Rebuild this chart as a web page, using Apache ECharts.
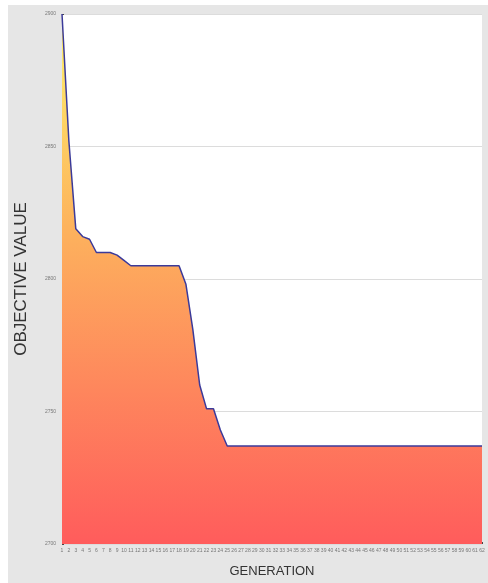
<!DOCTYPE html>
<html>
<head>
<meta charset="utf-8">
<script src="https://cdn.jsdelivr.net/npm/echarts@6/dist/echarts.min.js"></script>
<style>
  html, body { margin: 0; padding: 0; background: #fff; }
  #panel { position: absolute; left: 8px; top: 5px; width: 480px; height: 578px; background: #e6e6e6; }
  #chart { position: absolute; left: 0; top: 0; width: 488px; height: 583px; }
</style>
</head>
<body>
<div id="panel"></div>
<div id="chart"></div>
<script>
// Generations 1..62
var generations = [];
for (var g = 1; g <= 62; g++) generations.push(String(g));

// Best objective value per generation
var objectiveValues = [
  2900, 2852, 2819, 2816, 2815, 2810, 2810, 2810, 2809, 2807,
  2805, 2805, 2805, 2805, 2805, 2805, 2805, 2805, 2798, 2781,
  2760, 2751, 2751, 2743, 2737, 2737, 2737, 2737, 2737, 2737,
  2737, 2737, 2737, 2737, 2737, 2737, 2737, 2737, 2737, 2737,
  2737, 2737, 2737, 2737, 2737, 2737, 2737, 2737, 2737, 2737,
  2737, 2737, 2737, 2737, 2737, 2737, 2737, 2737, 2737, 2737,
  2737, 2737
];

var yMin = 2700;
var yMax = 2900;
var yStep = 50;

var chart = echarts.init(document.getElementById('chart'));

chart.setOption({
  animation: false,
  backgroundColor: 'transparent',
  grid: {
    left: 62,
    right: 6,
    top: 14,
    bottom: 34,
    show: true,
    backgroundColor: '#ffffff',
    borderWidth: 0
  },
  xAxis: {
    type: 'category',
    data: generations,
    boundaryGap: false,
    name: 'GENERATION',
    nameLocation: 'middle',
    nameGap: 21,
    nameTextStyle: { color: '#333', fontSize: 13, fontFamily: 'Liberation Sans' },
    axisLine: { show: false },
    axisTick: { show: true, inside: true, length: 2, interval: 0, lineStyle: { color: '#444' } },
    axisLabel: { interval: 0, fontSize: 5, color: '#777', margin: 4, fontFamily: 'Liberation Sans' },
    splitLine: { show: false }
  },
  yAxis: {
    type: 'value',
    min: yMin,
    max: yMax,
    interval: yStep,
    name: 'OBJECTIVE VALUE',
    nameLocation: 'middle',
    nameGap: 32,
    nameTextStyle: { color: '#333', fontSize: 17, fontFamily: 'Liberation Sans' },
    axisLine: { show: false },
    axisTick: { show: true, inside: true, length: 2, lineStyle: { color: '#444' } },
    minorTick: { show: true, splitNumber: 5, length: 1.5, lineStyle: { color: '#444' } },
    axisLabel: {
      fontSize: 5, color: '#777', margin: 6, fontFamily: 'Liberation Sans',
      formatter: function (value) { return String(value); }
    },
    splitLine: { show: true, lineStyle: { color: '#dcdcdc', width: 1 } }
  },
  series: [{
    type: 'line',
    data: objectiveValues,
    symbol: 'none',
    lineStyle: { color: '#3b3a9a', width: 1.5 },
    areaStyle: {
      opacity: 1,
      color: new echarts.graphic.LinearGradient(0, 0, 0, 1, [
        { offset: 0, color: '#fff36a' },
        { offset: 0.4, color: '#fdb35d' },
        { offset: 1, color: '#ff5c5c' }
      ])
    }
  }]
});
</script>
</body>
</html>
